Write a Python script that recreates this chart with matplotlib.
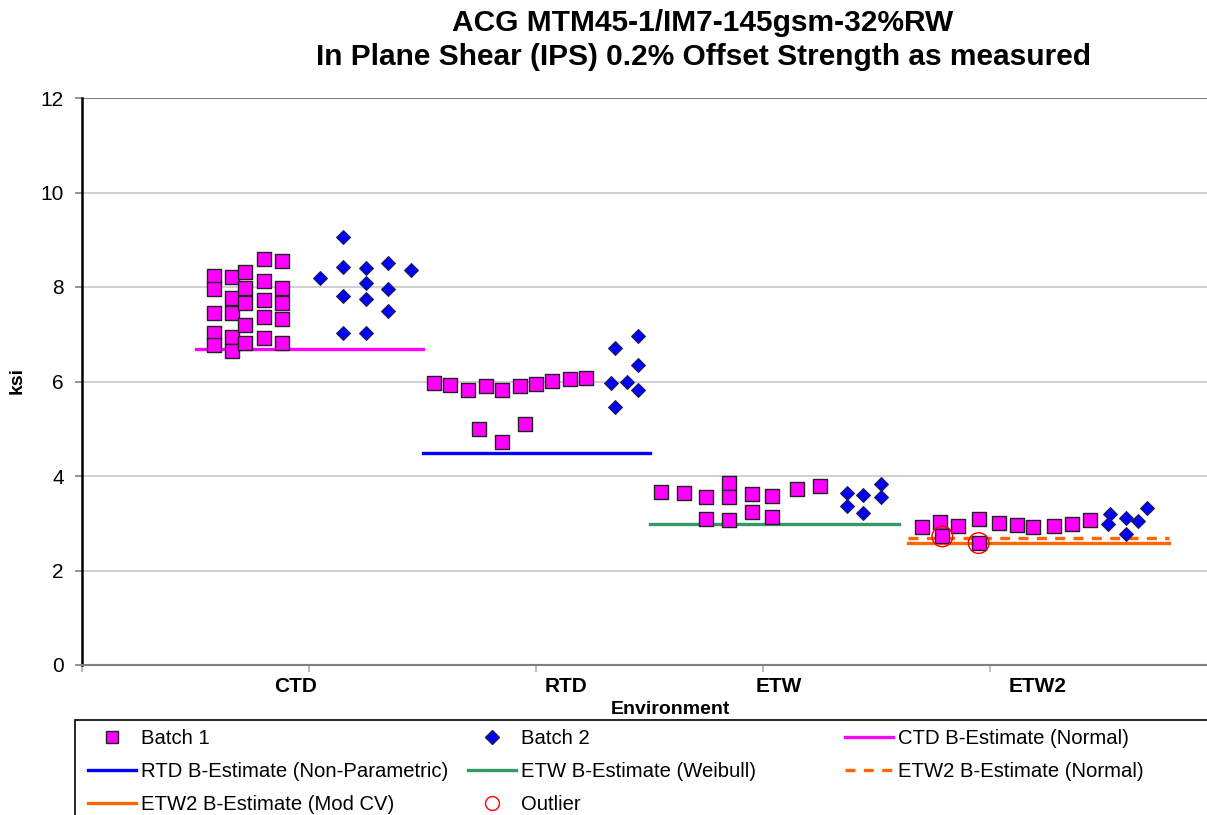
"""IPS 0.2% offset strength by environment, scatter with B-estimate lines."""

import matplotlib
matplotlib.use("Agg")
import matplotlib.pyplot as plt
from matplotlib.lines import Line2D
from matplotlib.patches import Rectangle
import matplotlib.transforms as mtransforms

plt.rcParams["font.family"] = ["Liberation Sans", "DejaVu Sans"]

# --- data (x = position along the environment axis, y = ksi) ---
batch1_x = [0.58, 0.58, 0.58, 0.58, 0.58,
            0.66, 0.66, 0.66, 0.66, 0.66,
            0.72, 0.72, 0.72, 0.72, 0.72,
            0.80, 0.80, 0.80, 0.80, 0.80,
            0.88, 0.88, 0.88, 0.88, 0.88,
            1.55, 1.62, 1.70, 1.78, 1.85, 1.93, 2.00, 2.07, 2.15, 2.22,
            1.75, 1.85, 1.95,
            2.55, 2.65, 2.75, 2.85, 2.85, 2.95, 3.04, 3.15, 3.25,
            2.75, 2.85, 2.95, 3.04,
            3.70, 3.78, 3.86, 3.79, 3.95, 4.04, 4.12, 4.19, 4.28, 4.36, 4.44, 3.95]
batch1_y = [8.23, 7.96, 7.45, 7.03, 6.77,
            8.21, 7.77, 7.45, 6.94, 6.65,
            8.32, 7.98, 7.66, 7.20, 6.81,
            8.59, 8.13, 7.72, 7.37, 6.92,
            8.55, 7.98, 7.66, 7.32, 6.81,
            5.97, 5.93, 5.81, 5.90, 5.83, 5.90, 5.95, 6.02, 6.05, 6.07,
            4.99, 4.73, 5.10,
            3.67, 3.63, 3.56, 3.86, 3.56, 3.61, 3.58, 3.72, 3.79,
            3.10, 3.07, 3.23, 3.14,
            2.93, 3.02, 2.95, 2.72, 3.09, 3.01, 2.96, 2.93, 2.95, 2.98, 3.07, 2.58]

batch2_x = [1.05, 1.15, 1.15, 1.15, 1.15, 1.25, 1.25, 1.25, 1.25, 1.35, 1.35, 1.35, 1.45,
            2.35, 2.45, 2.45, 2.33, 2.40, 2.45, 2.35,
            3.37, 3.37, 3.44, 3.44, 3.52, 3.52,
            4.53, 4.52, 4.60, 4.60, 4.65, 4.69]
batch2_y = [8.20, 9.05, 8.43, 7.80, 7.02, 8.41, 8.08, 7.74, 7.02, 8.50, 7.95, 7.50, 8.35,
            6.70, 6.96, 6.35, 5.96, 5.98, 5.83, 5.47,
            3.65, 3.37, 3.60, 3.21, 3.83, 3.56,
            3.20, 2.98, 3.12, 2.77, 3.05, 3.33]

outlier_x = [3.79, 3.95]
outlier_y = [2.72, 2.58]

# B-estimates: (label, x start, x end, value)
ctd_b = ("CTD B-Estimate (Normal)", 0.50, 1.50, 6.68)
rtd_b = ("RTD B-Estimate (Non-Parametric)", 1.50, 2.50, 4.48)
etw_b = ("ETW B-Estimate (Weibull)", 2.50, 3.60, 2.98)
etw2_norm = ("ETW2 B-Estimate (Normal)", 3.64, 4.79, 2.69)
etw2_modcv = ("ETW2 B-Estimate (Mod CV)", 3.64, 4.79, 2.58)

env_labels = ["CTD", "RTD", "ETW", "ETW2"]
env_label_x = [0.94, 2.13, 3.07, 4.21]

fig = plt.figure(figsize=(12.07, 8.15), dpi=100)
ax = fig.add_axes([82 / 1207, 1 - 665 / 815, 1 - 82 / 1207, (665 - 98) / 815])

ax.set_xlim(0, 1125 / 227)
ax.set_ylim(0, 12)
ax.set_yticks(range(0, 13, 2))
ax.set_xticks([0, 1, 2, 3, 4])
ax.set_xticklabels([])
for y in range(2, 12, 2):
    ax.axhline(y, color="#c8c8c8", lw=1.2, zorder=0)
ax.axhline(12, color="#808080", lw=1.5, zorder=0)
for s in ["top", "right"]:
    ax.spines[s].set_visible(False)
ax.spines["left"].set_color("black")
ax.spines["left"].set_linewidth(1.8)
ax.spines["bottom"].set_color("#808080")
ax.spines["bottom"].set_linewidth(1.5)
ax.tick_params(axis="y", colors="#808080", length=5, width=1.2, labelcolor="black",
               labelsize=15, pad=8)
ax.tick_params(axis="x", colors="#b0b0b0", length=5, width=1.2)

colors = {"CTD": "#ff00ff", "RTD": "#0000ff", "ETW": "#339966", "ETW2": "#ff6600"}
b_lines = [(ctd_b, colors["CTD"], "-"), (rtd_b, colors["RTD"], "-"), (etw_b, colors["ETW"], "-"),
           (etw2_norm, colors["ETW2"], (0, (3, 2.5))), (etw2_modcv, colors["ETW2"], "-")]
line_handles = {}
for (lab, x0, x1, v), c, ls in b_lines:
    (h,) = ax.plot([x0, x1], [v, v], color=c, lw=2.4, ls=ls, zorder=2, label=lab)
    line_handles[lab] = h

ax.scatter(batch1_x, batch1_y, marker="s", s=98, c="#ff00ff", edgecolors="#222222",
           linewidths=1.0, zorder=3)
ax.scatter(batch2_x, batch2_y, marker="D", s=50, c="#0000ff", edgecolors="#222244",
           linewidths=0.8, zorder=3)
ax.scatter(outlier_x, outlier_y, marker="o", s=220, facecolors="none", edgecolors="#ff0000",
           linewidths=1.0, zorder=4)

trans = mtransforms.blended_transform_factory(ax.transData, fig.transFigure)
for lab, x in zip(env_labels, env_label_x):
    ax.text(x, 1 - 687 / 815, lab, transform=trans, ha="center", va="center",
            fontsize=15, fontweight="bold")
fig.text(670 / 1207, 1 - 710 / 815, "Environment", ha="center", va="center",
         fontsize=14, fontweight="bold")
fig.text(17 / 1207, 1 - 380 / 815, "ksi", rotation=90, ha="center", va="center",
         fontsize=14, fontweight="bold")
fig.text(703 / 1207, 1 - 23 / 815, "ACG MTM45-1/IM7-145gsm-32%RW", ha="center", va="center",
         fontsize=21.5, fontweight="bold")
fig.text(703 / 1207, 1 - 57 / 815, "In Plane Shear (IPS) 0.2% Offset Strength as measured",
         ha="center", va="center", fontsize=21.5, fontweight="bold")

# legend box (runs past the right and bottom edges as in the source)
fig.add_artist(Rectangle((75 / 1207, -0.01), 1.0, 1 - 720 / 815 + 0.01,
                         transform=fig.transFigure, fill=False, ec="black", lw=1.2))

h_b1 = Line2D([], [], ls="none", marker="s", ms=9, mfc="#ff00ff", mec="#222222", label="Batch 1")
h_b2 = Line2D([], [], ls="none", marker="D", ms=7, mfc="#0000ff", mec="#222244", label="Batch 2")
h_out = Line2D([], [], ls="none", marker="o", ms=10, mfc="none", mec="#ff0000", label="Outlier")

columns = [
    (88, [h_b1, line_handles[rtd_b[0]], line_handles[etw2_modcv[0]]]),
    (468, [h_b2, line_handles[etw_b[0]], h_out]),
    (845, [line_handles[ctd_b[0]], line_handles[etw2_norm[0]]]),
]
for x_px, handles in columns:
    fig.legend(handles=handles, loc="upper left", frameon=False,
               bbox_to_anchor=(x_px / 1207, 1 - 729 / 815), borderaxespad=0, borderpad=0,
               fontsize=14.6, handlelength=2.37, handletextpad=0.25, labelspacing=0.7)

fig.savefig("out.png", dpi=100)
